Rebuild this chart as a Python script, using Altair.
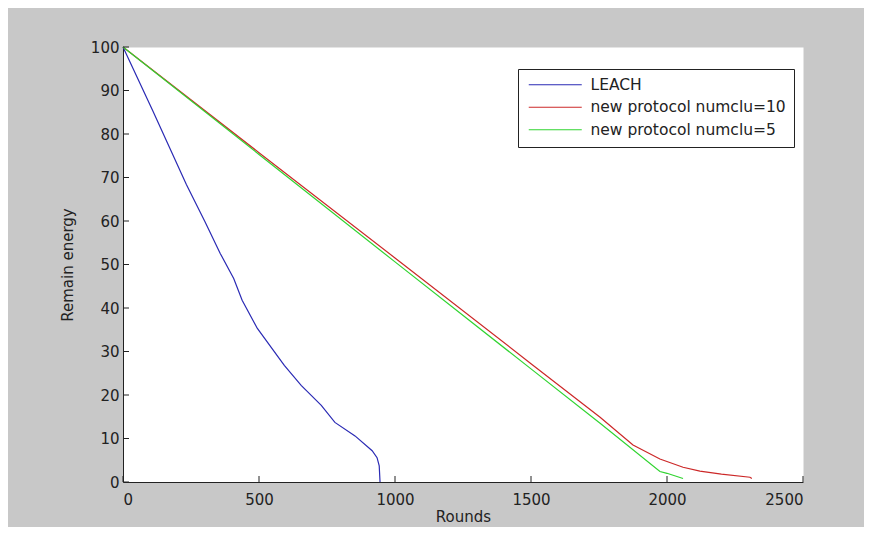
import altair as alt
import pandas as pd

# ---- data ----
series_names = ["LEACH", "new protocol numclu=10", "new protocol numclu=5"]
series_colors = ["#2a2ab4", "#cc2828", "#30d430"]

leach_rounds = [0, 109, 171, 233, 301, 357, 407, 438, 494, 593, 655, 729, 779, 853, 916, 934, 942, 945]
leach_energy = [100, 85.4, 76.9, 68.4, 59.9, 52.6, 46.8, 41.8, 35.3, 26.8, 22.2, 17.6, 13.7, 10.6, 7.2, 5.6, 3.7, 0.0]

red_rounds = [0, 500, 1000, 1500, 1754, 1875, 1974, 2059, 2121, 2200, 2305, 2312]
red_energy = [100, 75.7, 51.5, 27.2, 14.9, 8.5, 5.3, 3.4, 2.5, 1.8, 1.1, 0.8]

green_rounds = [0, 500, 1000, 1500, 1754, 1974, 2000, 2059]
green_energy = [100, 75.3, 50.6, 26.0, 13.5, 2.4, 2.0, 0.8]

x_ticks = [0, 500, 1000, 1500, 2000, 2500]
y_ticks = [0, 10, 20, 30, 40, 50, 60, 70, 80, 90, 100]

FONT = "DejaVu Sans"
INK = "#222222"

rows = []
for name, rs, es in zip(series_names,
                        [leach_rounds, red_rounds, green_rounds],
                        [leach_energy, red_energy, green_energy]):
    for i, (r, e) in enumerate(zip(rs, es)):
        rows.append({"series": name, "rounds": r, "energy": e, "order": i})
df = pd.DataFrame(rows)

x_scale = alt.Scale(domain=[0, 2500], nice=False, zero=False)
y_scale = alt.Scale(domain=[0, 100], nice=False)

x_axis = alt.Axis(values=x_ticks, title="Rounds", grid=False, ticks=False, tickSize=0,
                  labelPadding=10, titlePadding=2, format="d")
y_axis = alt.Axis(values=y_ticks, title="Remain energy", grid=False, ticks=False, tickSize=0,
                  labelPadding=4, titlePadding=15, format="d")

lines = alt.Chart(df).mark_line(strokeWidth=1.2).encode(
    x=alt.X("rounds:Q", scale=x_scale, axis=x_axis),
    y=alt.Y("energy:Q", scale=y_scale, axis=y_axis),
    color=alt.Color("series:N",
                    scale=alt.Scale(domain=series_names, range=series_colors),
                    legend=alt.Legend(title=None, orient="none", legendX=395, legendY=22,
                                      symbolType="M-1,0H9.6", symbolSize=100,
                                      symbolStrokeWidth=1.2,
                                      labelFontSize=15.5, labelFont=FONT, labelColor=INK,
                                      labelLimit=400, padding=8, rowPadding=5.5, labelOffset=49,
                                      strokeColor=INK, fillColor="white")),
    order="order:Q",
)

ytick_df = pd.DataFrame({"energy": y_ticks})
xtick_df = pd.DataFrame({"rounds": x_ticks})

yticks = alt.Chart(ytick_df).mark_rule(color=INK, strokeWidth=1).encode(
    y=alt.Y("energy:Q", scale=y_scale, axis=y_axis),
    x=alt.value(0), x2=alt.value(6),
)
xticks = alt.Chart(xtick_df).mark_rule(color=INK, strokeWidth=1).encode(
    x=alt.X("rounds:Q", scale=x_scale, axis=x_axis),
    y=alt.value(435), y2=alt.value(429),
)

chart = alt.layer(lines, yticks, xticks).properties(
    width=680, height=435,
    autosize=alt.AutoSizeParams(type="none"),
    padding={"left": 115, "top": 39, "right": 61, "bottom": 45},
    background="#c8c8c8",
).configure_view(
    fill="white", stroke="transparent"
).configure_axis(
    domainColor=INK, domainWidth=1,
    labelFont=FONT, labelFontSize=15, labelColor=INK,
    titleFont=FONT, titleFontSize=15, titleColor=INK, titleFontWeight="normal",
)

chart.save("out.html", embed_options={"renderer": "svg", "actions": False})
